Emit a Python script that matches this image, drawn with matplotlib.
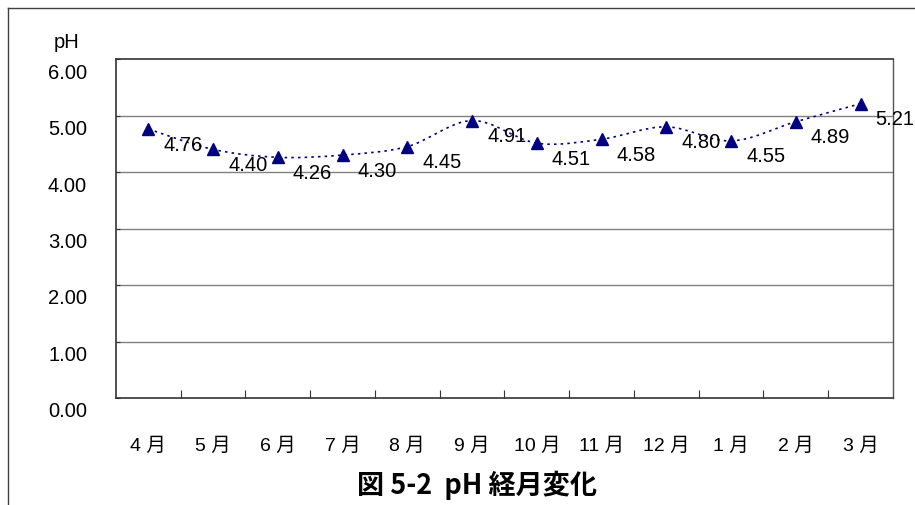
import matplotlib as mpl
mpl.use("Agg")
import matplotlib.pyplot as plt
import matplotlib.transforms as mtrans
from matplotlib.path import Path
from matplotlib.patches import PathPatch
from matplotlib.lines import Line2D

plt.rcParams["font.family"] = ["Liberation Sans", "Noto Sans CJK JP", "DejaVu Sans"]

MONTHS = ["4 月", "5 月", "6 月", "7 月", "8 月", "9 月",
          "10 月", "11 月", "12 月", "1 月", "2 月", "3 月"]
PH = [4.76, 4.40, 4.26, 4.30, 4.45, 4.91, 4.51, 4.58, 4.80, 4.55, 4.89, 5.21]
YTICKS = [0, 1, 2, 3, 4, 5, 6]
NAVY = "#000080"
GRID = "#808080"
INK = "#333333"

fig = plt.figure(figsize=(9.15, 5.06), dpi=100)
ax = fig.add_axes([116 / 915, 1 - 399 / 506, (893 - 116) / 915, (399 - 60) / 506])

xs = list(range(len(PH)))
ax.set_xlim(-0.5, len(PH) - 0.5)
ax.set_ylim(0, 6)

# smoothed dotted connector (Catmull-Rom as cubic Bezier segments)
pts = list(zip(xs, PH))
verts = [pts[0]]
codes = [Path.MOVETO]
for i in range(len(pts) - 1):
    p0 = pts[max(i - 1, 0)]
    p1 = pts[i]
    p2 = pts[i + 1]
    p3 = pts[min(i + 2, len(pts) - 1)]
    c1 = (p1[0] + (p2[0] - p0[0]) / 6, p1[1] + (p2[1] - p0[1]) / 6)
    c2 = (p2[0] - (p3[0] - p1[0]) / 6, p2[1] - (p3[1] - p1[1]) / 6)
    verts += [c1, c2, p2]
    codes += [Path.CURVE4] * 3
ax.add_patch(PathPatch(Path(verts, codes), fill=False, edgecolor=NAVY,
                       lw=1.2, ls=(0, (1.5, 2.5)), zorder=3))
ax.plot(xs, PH, ls="none", marker="^", ms=9, color=NAVY, zorder=4)

for x, v in zip(xs, PH):
    ax.annotate(f"{v:.2f}", (x, v), xytext=(15, -15), textcoords="offset pixels",
                ha="left", va="center", fontsize=14.5, zorder=5)

# grid and frame
for v in YTICKS[1:-1]:
    ax.axhline(v, color=GRID, lw=1, zorder=1)
for s in ["left", "bottom", "top"]:
    ax.spines[s].set_color(INK)
    ax.spines[s].set_linewidth(1.2)
ax.spines["right"].set_color("#555555")
ax.spines["right"].set_linewidth(1)

ax.set_xticks([i + 0.5 for i in xs[:-1]])
ax.set_xticklabels([])
ax.tick_params(axis="x", direction="in", length=6, color=INK)
ax.set_yticks(YTICKS)
ax.set_yticklabels([])
ax.tick_params(axis="y", direction="in", length=3, color=INK)

down = lambda px: mtrans.ScaledTranslation(0, -px / 100, fig.dpi_scale_trans)
ytr = mtrans.blended_transform_factory(ax.transAxes, ax.transData)
for v in YTICKS:
    ax.text(-29 / 777, v, f"{v:.2f}", transform=ytr + down(13),
            ha="right", va="center", fontsize=14.5)
xtr = mtrans.blended_transform_factory(ax.transData, ax.transAxes)
for x, m in zip(xs, MONTHS):
    ax.text(x, 0, m, transform=xtr + down(47), ha="center", va="center",
            fontsize=14)

fig.text(67 / 915, 1 - 43 / 506, "pH", ha="center", va="center", fontsize=14.5)
fig.text(477 / 915, 1 - 485 / 506, "図 5-2  pH 経月変化", ha="center", va="center",
         fontsize=19.5, fontweight="bold",
         family=["Noto Sans CJK JP", "DejaVu Sans"])

# outer chart-area border (left and top edges visible)
fig.add_artist(Line2D([8 / 915, 8 / 915], [0, 1 - 9 / 506], color="#404040", lw=1))
fig.add_artist(Line2D([8 / 915, 1], [1 - 9 / 506, 1 - 9 / 506], color="#404040", lw=1))

fig.savefig("out.png", dpi=100)
